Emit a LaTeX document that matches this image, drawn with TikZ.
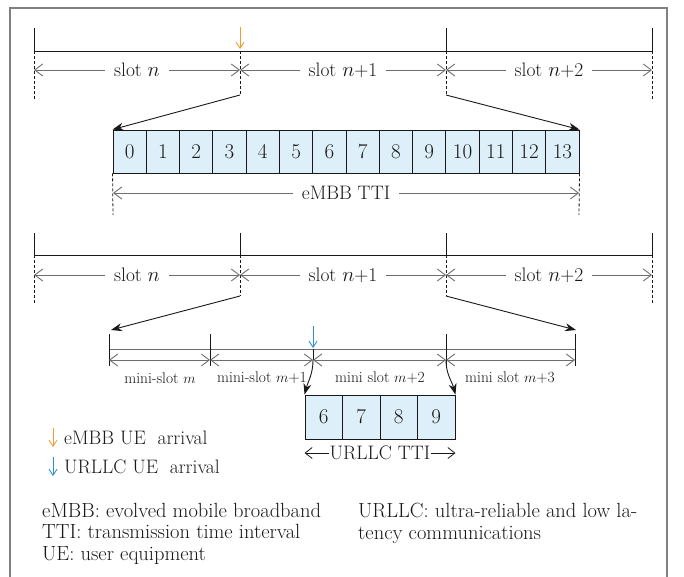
\documentclass[tikz,border=0pt]{standalone}
\usepackage{tikz}
\usetikzlibrary{arrows.meta,positioning}
\definecolor{cellblue}{HTML}{DDEFF9}
\definecolor{embborange}{HTML}{F39C34}
\definecolor{urllcblue}{HTML}{2A93D5}
\definecolor{dimgray}{HTML}{6E6E6E}
\definecolor{inkblack}{HTML}{1A1718}
\definecolor{framegray}{HTML}{808080}
\newcommand{\mainsize}{\fontsize{19.5}{21}\selectfont}
\newcommand{\notesize}{\fontsize{20.5}{21.5}\selectfont}
\newcommand{\minisize}{\fontsize{15.5}{17}\selectfont}
\tikzset{
  cell/.style={draw=inkblack,fill=cellblue,inner sep=0pt,line width=0.9pt,
               font=\fontsize{21}{21}\selectfont},
  dimline/.style={draw=dimgray,line width=0.9pt,
                  {Straight Barb[length=8pt,width=12pt]}-{Straight Barb[length=8pt,width=12pt]}},
  dimlabel/.style={fill=white,inner xsep=9pt,inner ysep=2pt,font=\mainsize},
  minilabel/.style={inner sep=1pt,font=\minisize},
  axis/.style={draw=inkblack,line width=0.9pt},
  guide/.style={draw=inkblack,line width=0.8pt,dash pattern=on 3pt off 2pt},
  link/.style={draw=inkblack,line width=0.9pt,-{Stealth[length=11pt,width=8pt]}},
  arrival/.style={line width=0.9pt,-{Straight Barb[length=6pt,width=8pt]}}
}
\begin{document}
\begin{tikzpicture}[x=1pt,y=-1pt,text=inkblack,font=\mainsize]
  \useasboundingbox (0,0) rectangle (684,577);
  \draw[framegray,line width=1.4pt] (10,577) |- (667,8) -- (667,577);

  % upper slots
  \foreach \i/\x in {0/34,1/240,2/446,3/652}{
    \coordinate (t\i) at (\x,51);
    \coordinate (tt\i) at (\x,28);
    \coordinate (td\i) at (\x,70);
  }
  \coordinate (tb0) at (34,99);
  \coordinate (tb1) at (240,95);
  \coordinate (tb2) at (446,95);
  \coordinate (tb3) at (652,99);
  \draw[axis] (t0) -- (t3);
  \foreach \i in {0,2,3} \draw[axis] (tt\i) -- (t\i);
  \foreach \i in {0,...,3} \draw[guide] (t\i) -- (tb\i);
  \draw[dimline] (td0) -- node[dimlabel]{slot $n$} (td1);
  \draw[dimline] (td1) -- node[dimlabel]{slot $n$+1} (td2);
  \draw[dimline] (td2) -- node[dimlabel]{slot $n$+2} (td3);
  \coordinate (eua) at (240,27);
  \coordinate (eub) at (240,49);
  \draw[arrival,embborange] (eua) -- (eub);

  % eMBB TTI
  \foreach \i in {0,...,13}
    \node[cell,minimum width=33.29pt,minimum height=43pt] (e\i) at ({129.64+33.29*\i},151.5) {\i};
  \draw[link] (tb1) -- (e0.north west);
  \draw[link] (tb2) -- (e13.north east);
  \coordinate (ed0) at (113,215);
  \coordinate (ed1) at (579,215);
  \draw[guide] (e0.south west) -- (ed0);
  \draw[guide] (e13.south east) -- (ed1);
  \draw[dimline] (113,193) -- node[dimlabel]{eMBB TTI} (579,193);

  % lower slots
  \foreach \i/\x in {0/34,1/240,2/446,3/652}{
    \coordinate (b\i) at (\x,255);
    \coordinate (bt\i) at (\x,233);
    \coordinate (bd\i) at (\x,275);
  }
  \coordinate (bb0) at (34,303);
  \coordinate (bb1) at (240,296);
  \coordinate (bb2) at (446,296);
  \coordinate (bb3) at (652,303);
  \draw[axis] (b0) -- (b3);
  \foreach \i in {0,...,3} \draw[axis] (bt\i) -- (b\i);
  \foreach \i in {0,...,3} \draw[guide] (b\i) -- (bb\i);
  \draw[dimline] (bd0) -- node[dimlabel]{slot $n$} (bd1);
  \draw[dimline] (bd1) -- node[dimlabel]{slot $n$+1} (bd2);
  \draw[dimline] (bd2) -- node[dimlabel]{slot $n$+2} (bd3);

  % mini-slots
  \foreach \i/\x in {0/109,1/210,2/313,3/446,4/575}{
    \coordinate (m\i) at (\x,349);
    \coordinate (mt\i) at (\x,334);
    \coordinate (md\i) at (\x,360);
    \coordinate (mb\i) at (\x,366);
  }
  \coordinate (ma0) at (111,330);
  \coordinate (ma1) at (576,330);
  \draw[link] (bb1) -- (ma0);
  \draw[link] (bb2) -- (ma1);
  \draw[axis,draw=dimgray] (m0) -- (m4);
  \foreach \i in {0,1,3,4} \draw[axis] (mt\i) -- (mb\i);
  \draw[axis] (m2) -- (md2);
  \foreach \i/\j in {0/1,1/2,2/3,3/4} \draw[dimline] (md\i) -- (md\j);
  \node[minilabel] (ml0) at (160,378) {mini-slot $m$};
  \node[minilabel] (ml1) at (262,378) {mini-slot $m$+1};
  \node[minilabel] (ml2) at (380,378) {mini slot $m$+2};
  \node[minilabel] (ml3) at (510,378) {mini slot $m$+3};
  \coordinate (uua) at (313,326);
  \coordinate (uub) at (313,348);
  \draw[arrival,urllcblue] (uua) -- (uub);

  % URLLC TTI
  \foreach \i [count=\k from 0] in {6,...,9}
    \node[cell,minimum width=37.5pt,minimum height=44pt] (u\i) at ({323.75+37.5*\k},417) {\i};
  \draw[link] (md2) to[out=-90,in=75] (u6.north west);
  \draw[link] (md3) to[out=-90,in=105] (u9.north east);
  \draw[draw=inkblack,line width=0.8pt,{Straight Barb[length=7pt,width=11pt]}-{Straight Barb[length=7pt,width=11pt]}]
    (u6.south west |- 0,453) -- node[fill=white,inner sep=1pt]{URLLC TTI} (u9.south east |- 0,453);

  % legend
  \coordinate (leo) at (53,428);
  \coordinate (lei) at (53,447);
  \coordinate (luo) at (53,457);
  \coordinate (lui) at (53,476);
  \draw[arrival,embborange] (leo) -- (lei);
  \draw[arrival,urllcblue] (luo) -- (lui);
  \node[anchor=west,inner sep=0pt] (lemb) at (64,438) {eMBB UE\ \ arrival};
  \node[anchor=west,inner sep=0pt] (lurl) at (64,467) {URLLC UE\ \ arrival};

  % abbreviations
  \node[anchor=north west,align=left,inner sep=0pt,font=\notesize] (abbl) at (42,503)
    {eMBB: evolved mobile broadband\\TTI: transmission time interval\\UE: user equipment};
  \node[anchor=north west,align=left,inner sep=0pt,font=\notesize] (abbr) at (358,503)
    {URLLC: ultra-reliable and low la-\\tency communications};
\end{tikzpicture}
\end{document}
